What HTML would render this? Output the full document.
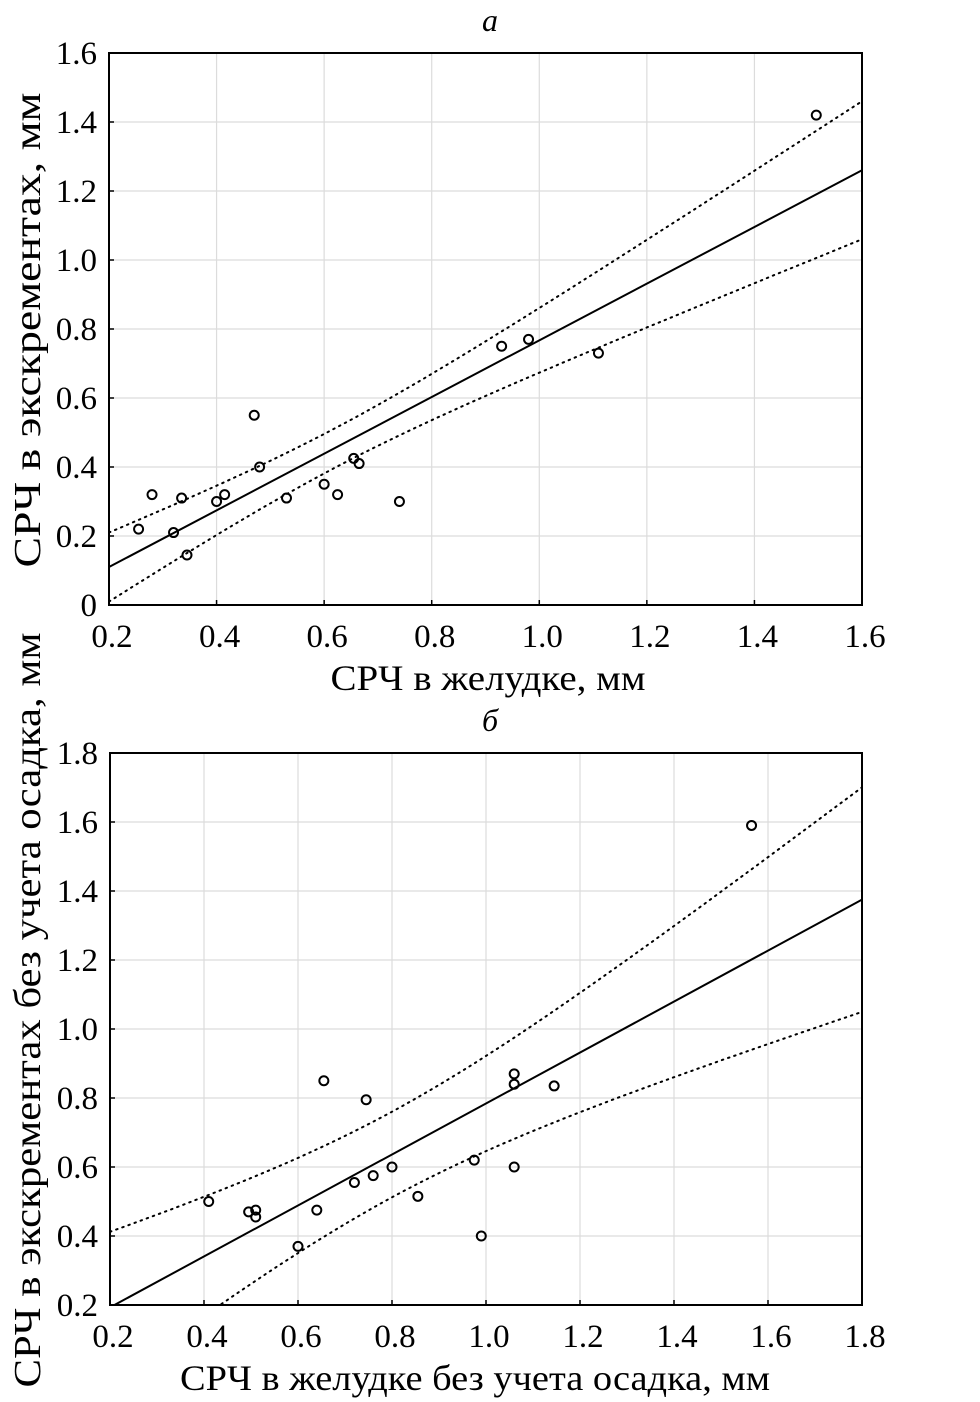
<!DOCTYPE html>
<html><head><meta charset="utf-8"><style>
html,body{margin:0;padding:0;background:#fff}
svg{display:block}
text{font-family:"Liberation Serif",serif;fill:#000}
</style></head><body>
<svg id="s" width="980" height="1402" viewBox="0 0 980 1402" xmlns="http://www.w3.org/2000/svg"></svg>
<script>
// Chart a data
const aX = [0.255,0.28,0.32,0.335,0.345,0.40,0.415,0.47,0.48,0.53,0.60,0.625,0.655,0.665,0.74,0.93,0.98,1.11,1.515];
const aY = [0.22,0.32,0.21,0.31,0.145,0.30,0.32,0.55,0.40,0.31,0.35,0.32,0.425,0.41,0.30,0.75,0.77,0.73,1.42];
const aXTicks = ["0.2","0.4","0.6","0.8","1.0","1.2","1.4","1.6"];
const aYTicks = ["0","0.2","0.4","0.6","0.8","1.0","1.2","1.4","1.6"];
const aFit = [0.11,1.26]; // y at xmin, xmax
const aBand = [0.00326,0.0383,0.62]; // variance params a, b, mean x
// Chart b data
const bX = [0.41,0.495,0.51,0.51,0.60,0.64,0.655,0.72,0.745,0.76,0.80,0.855,0.975,0.99,1.06,1.06,1.06,1.145,1.565];
const bY = [0.50,0.47,0.475,0.455,0.37,0.475,0.85,0.555,0.795,0.575,0.60,0.515,0.62,0.40,0.87,0.84,0.60,0.835,1.59];
const bXTicks = ["0.2","0.4","0.6","0.8","1.0","1.2","1.4","1.6","1.8"];
const bYTicks = ["0.2","0.4","0.6","0.8","1.0","1.2","1.4","1.6","1.8"];
const bFit = [0.193,1.375];
const bBand = [0.0154,0.0906,0.8];

const NS="http://www.w3.org/2000/svg";
const svg=document.getElementById('s');
function mk(tag,at,parent){const e=document.createElementNS(NS,tag);for(const k in at)e.setAttribute(k,at[k]);(parent||svg).appendChild(e);return e;}

function chart(o){
  const g=mk('g',{});
  
  
  const sx=v=>o.L+(v-o.x0)/(o.x1-o.x0)*(o.R-o.L);
  const sy=v=>o.B-(v-o.y0)/(o.y1-o.y0)*(o.B-o.T);
  const cid='clip'+o.name;
  const cp=mk('clipPath',{id:cid},g);mk('rect',{x:o.L,y:o.T,width:o.R-o.L,height:o.B-o.T},cp);
  // grid
  o.xt.forEach(t=>{const v=parseFloat(t);const x=sx(v);
    const l=mk('line',{x1:x,x2:x,y1:o.T,y2:o.B,stroke:'#dcdcdc','stroke-width':1.2},g);
    
    const tx=mk('text',{x:x+3,y:o.B+42,'font-size':33,'text-anchor':'middle'},g);tx.textContent=t;
    
    mk('line',{x1:x,x2:x,y1:o.B,y2:o.B-5,stroke:'#000','stroke-width':1.5},g);
  });
  o.yt.forEach(t=>{const v=parseFloat(t);const y=sy(v);
    const l=mk('line',{x1:o.L,x2:o.R,y1:y,y2:y,stroke:'#dcdcdc','stroke-width':1.2},g);
    
    const tx=mk('text',{x:o.L-12,y:y+11,'font-size':33,'text-anchor':'end'},g);tx.textContent=t;
    
    mk('line',{x1:o.L,x2:o.L+5,y1:y,y2:y,stroke:'#000','stroke-width':1.5},g);
  });
  // frame
  const fr=mk('rect',{x:o.L,y:o.T,width:o.R-o.L,height:o.B-o.T,fill:'none',stroke:'#000','stroke-width':2},g);
  
  const cg=mk('g',{'clip-path':'url(#'+cid+')'},g);
  // fit line
  const fy=x=>o.fit[0]+(o.fit[1]-o.fit[0])*(x-o.x0)/(o.x1-o.x0);
  const fl=mk('line',{x1:sx(o.x0),y1:sy(o.fit[0]),x2:sx(o.x1),y2:sy(o.fit[1]),stroke:'#000','stroke-width':2},cg);
  
  // bands
  [1,-1].forEach(sgn=>{
    let d='';for(let i=0;i<=60;i++){const x=o.x0+(o.x1-o.x0)*i/60;
      const w=Math.sqrt(o.band[0]+o.band[1]*(x-o.band[2])**2);
      d+=(i?'L':'M')+sx(x).toFixed(1)+','+sy(fy(x)+sgn*w).toFixed(1);}
    const p=mk('path',{d:d,fill:'none',stroke:'#000','stroke-width':2,'stroke-dasharray':'1.5 5','stroke-linecap':'round'},cg);
    
    
  });
  o.px.forEach((x,i)=>{
    const c=mk('circle',{cx:sx(x),cy:sy(o.py[i]),r:4.5,fill:'none',stroke:'#000','stroke-width':2},g);
    
  });
  const t=mk('text',{x:490,y:o.T-22,'font-size':32,'font-style':'italic','text-anchor':'middle'},g);t.textContent=o.title;
  
  const xl=mk('text',{x:o.xlx,y:o.B+85,'font-size':36,'text-anchor':'middle',textLength:o.xlw,lengthAdjust:'spacingAndGlyphs'},g);xl.textContent=o.xlab;
  
  const yl=mk('text',{x:0,y:0,'font-size':38,'text-anchor':'middle',textLength:o.ylw,lengthAdjust:'spacingAndGlyphs',transform:'translate(40,'+o.yly+') rotate(-90)'},g);yl.textContent=o.ylab;
  
}
chart({name:'chart-a',L:109,R:862,T:53,B:605,x0:0.2,x1:1.6,y0:0,y1:1.6,xt:aXTicks,yt:aYTicks,px:aX,py:aY,fit:aFit,band:aBand,title:'а',
  xlab:'СРЧ в желудке, мм',xlx:488,xlw:315,ylab:'СРЧ в экскрементах, мм',yly:330,ylw:475});
chart({name:'chart-b',L:110,R:862,T:753,B:1305,x0:0.2,x1:1.8,y0:0.2,y1:1.8,xt:bXTicks,yt:bYTicks,px:bX,py:bY,fit:bFit,band:bBand,title:'б',
  xlab:'СРЧ в желудке без учета осадка, мм',xlx:475,xlw:590,ylab:'СРЧ в экскрементах без учета осадка, мм',yly:1010,ylw:755});
</script>
</body></html>
